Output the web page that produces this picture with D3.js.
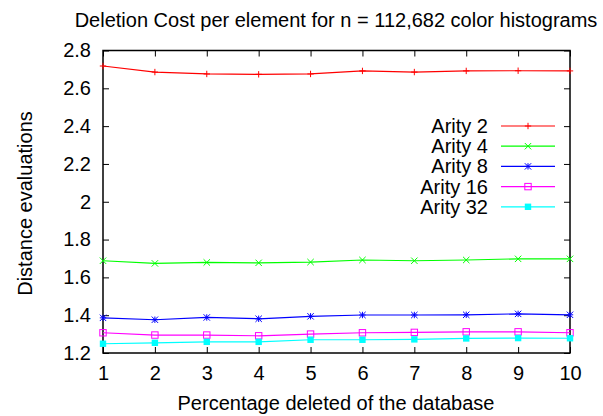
<!DOCTYPE html>
<html><head><meta charset="utf-8">
<script src="https://cdn.jsdelivr.net/npm/d3@7/dist/d3.min.js"></script>
<style>body{margin:0;background:#fff}text{font-family:"Liberation Sans",Arial,sans-serif;fill:#000}</style>
</head><body><svg id="c" width="603" height="416"></svg>
<script>
const xValues = [1,2,3,4,5,6,7,8,9,10];
const arity2  = [2.718,2.686,2.676,2.674,2.676,2.692,2.686,2.692,2.693,2.692];
const arity4  = [1.688,1.674,1.679,1.677,1.681,1.692,1.688,1.692,1.698,1.698];
const arity8  = [1.386,1.376,1.388,1.381,1.394,1.401,1.401,1.402,1.407,1.402];
const arity16 = [1.307,1.295,1.295,1.291,1.300,1.307,1.309,1.312,1.312,1.307];
const arity32 = [1.249,1.254,1.259,1.259,1.270,1.270,1.272,1.277,1.279,1.278];
const seriesNames = ["Arity 2","Arity 4","Arity 8","Arity 16","Arity 32"];
const yTicks = [1.2,1.4,1.6,1.8,2,2.2,2.4,2.6,2.8];
const title = "Deletion Cost per element for n = 112,682 color histograms";
const xTitle = "Percentage deleted of the database";
const yTitle = "Distance evaluations";

const series = [arity2,arity4,arity8,arity16,arity32];
const colors = ["#ff0000","#00ff00","#0000ff","#ff00ff","#00ffff"];
const markers = ["plus","cross","star","square","fsquare"];

const L=103,R=570,T=50.5,B=353;
const FS=20;
const svg=d3.select("#c");
const x=d3.scaleLinear().domain([1,10]).range([L,R]);
const y=d3.scaleLinear().domain([1.2,2.8]).range([B,T]);
const tl=6;

// axes
svg.append("g").attr("transform",`translate(0,${B})`)
  .call(d3.axisBottom(x).tickValues(xValues).tickFormat(d3.format("d")).tickSizeInner(-tl).tickSizeOuter(0).tickPadding(13))
  .call(g=>{g.select(".domain").remove();g.selectAll("text").attr("font-size",FS);});
svg.append("g").attr("transform",`translate(0,${T})`)
  .call(d3.axisTop(x).tickValues(xValues).tickFormat("").tickSizeInner(-tl).tickSizeOuter(0))
  .call(g=>g.select(".domain").remove());
svg.append("g").attr("transform",`translate(${L},0)`)
  .call(d3.axisLeft(y).tickValues(yTicks).tickFormat(d=>d3.format("")(+d.toFixed(1))).tickSizeInner(-tl).tickSizeOuter(0).tickPadding(12))
  .call(g=>{g.select(".domain").remove();g.selectAll("text").attr("font-size",FS);});
svg.append("g").attr("transform",`translate(${R},0)`)
  .call(d3.axisRight(y).tickValues(yTicks).tickFormat("").tickSizeInner(-tl).tickSizeOuter(0))
  .call(g=>g.select(".domain").remove());
svg.selectAll(".tick line").attr("stroke","#000").attr("stroke-width",1);
svg.append("rect").attr("x",L).attr("y",T).attr("width",R-L).attr("height",B-T)
  .attr("fill","none").attr("stroke","#000").attr("stroke-width",1.5);

function marker(g,type,cx,cy,c){
  const s=3.2;
  if(type==="plus"){
    g.append("path").attr("d",`M${cx-s},${cy}H${cx+s}M${cx},${cy-s}V${cy+s}`).attr("stroke",c).attr("fill","none");
  } else if(type==="cross"){
    g.append("path").attr("d",`M${cx-s},${cy-s}L${cx+s},${cy+s}M${cx-s},${cy+s}L${cx+s},${cy-s}`).attr("stroke",c).attr("fill","none");
  } else if(type==="star"){
    g.append("path").attr("d",`M${cx-s},${cy}H${cx+s}M${cx},${cy-s}V${cy+s}M${cx-s},${cy-s}L${cx+s},${cy+s}M${cx-s},${cy+s}L${cx+s},${cy-s}`).attr("stroke",c).attr("fill","none");
  } else if(type==="square"){
    g.append("rect").attr("x",cx-s).attr("y",cy-s).attr("width",2*s).attr("height",2*s).attr("stroke",c).attr("fill","none");
  } else {
    g.append("rect").attr("x",cx-s).attr("y",cy-s).attr("width",2*s).attr("height",2*s).attr("fill",c);
  }
}

const line=d3.line().x((d,i)=>x(xValues[i])).y(d=>y(d));
series.forEach((s,k)=>{
  const g=svg.append("g");
  g.append("path").datum(s).attr("d",line).attr("fill","none").attr("stroke",colors[k]).attr("stroke-width",1.2);
  s.forEach((v,i)=>marker(g,markers[k],x(xValues[i]),y(v),colors[k]));
});

// legend
const legY=[126,146.2,166.4,186.6,206.8];
seriesNames.forEach((n,k)=>{
  const g=svg.append("g");
  g.append("text").attr("x",488).attr("y",legY[k]).attr("dy","0.35em").attr("text-anchor","end").attr("font-size",FS).text(n);
  g.append("line").attr("x1",501).attr("x2",555).attr("y1",legY[k]).attr("y2",legY[k]).attr("stroke",colors[k]).attr("stroke-width",1.2);
  marker(g,markers[k],528,legY[k],colors[k]);
});

svg.append("text").attr("x",336).attr("y",27.3).attr("text-anchor","middle").attr("font-size",FS).text(title);
svg.append("text").attr("x",336).attr("y",410).attr("text-anchor","middle").attr("font-size",FS).text(xTitle);
svg.append("text").attr("transform","translate(32,203.5) rotate(-90)").attr("text-anchor","middle").attr("font-size",FS).text(yTitle);
</script></body></html>
